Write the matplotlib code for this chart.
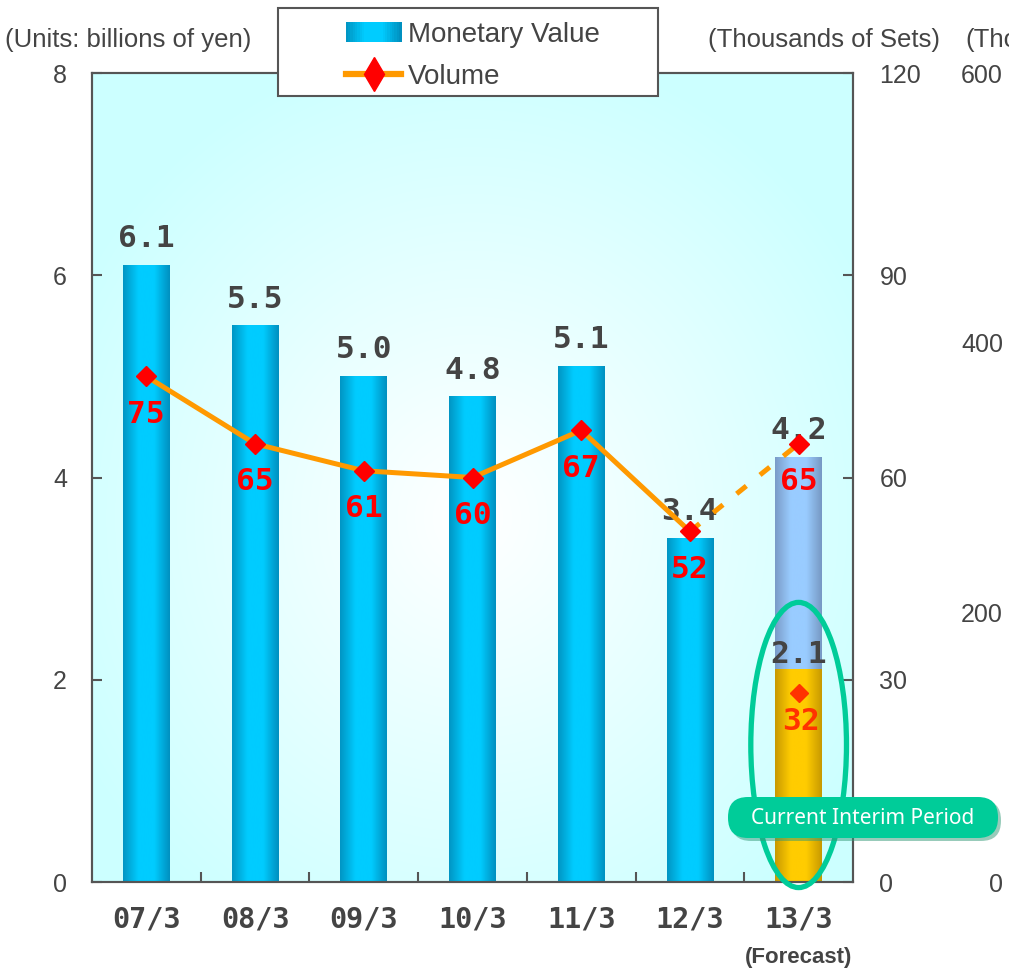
import numpy as np
import matplotlib
matplotlib.use("Agg")
import matplotlib.pyplot as plt
from matplotlib.colors import LinearSegmentedColormap
from matplotlib.legend_handler import HandlerBase
from matplotlib.lines import Line2D
from matplotlib.patches import Patch, Ellipse, FancyBboxPatch, Rectangle
from matplotlib.transforms import IdentityTransform

# data
periods = ["07/3", "08/3", "09/3", "10/3", "11/3", "12/3", "13/3"]
value = [6.1, 5.5, 5.0, 4.8, 5.1, 3.4, 4.2]      # billions of yen (last one = forecast)
volume = [75, 65, 61, 60, 67, 52, 65]            # thousands of sets
interim_value = 2.1
interim_volume = 32
interim_marker = 28                              # where the interim marker sits in the picture
left_ticks = [0, 2, 4, 6, 8]
right_ticks = [0, 30, 60, 90, 120]
far_ticks = [0, 200, 400, 600]

sans = ["Liberation Sans", "DejaVu Sans"]
mono = ["DejaVu Sans Mono"]
plt.rcParams["font.family"] = sans
gray = "#444444"
spine_c = "#555555"

# gradients
blue_cm = LinearSegmentedColormap.from_list("b", ["#0096c4", "#00ccff", "#00ccff", "#0090c0"])
light_cm = LinearSegmentedColormap.from_list("l", ["#7a9cc8", "#99ccff", "#99ccff", "#7799c4"])
gold_cm = LinearSegmentedColormap.from_list("g", ["#c89a00", "#ffcc00", "#ffcc00", "#c89a00"])
bg_cm = LinearSegmentedColormap.from_list("bg", ["#ffffff", "#ccffff"])

fig = plt.figure(figsize=(10.09, 9.72), dpi=100)
ax = fig.add_axes([92 / 1009, 1 - 882 / 972, 761 / 1009, 809 / 972])
x = np.arange(len(periods))

# background
yy, xx = np.mgrid[0:1:200j, 0:1:200j]
d = np.sqrt(((xx - 0.5) / 0.6) ** 2 + ((yy - 0.45) / 0.6) ** 2)
ax.imshow(np.clip(d, 0, 1), cmap=bg_cm, extent=(-0.5, 6.5, 0, 8), origin="lower",
          aspect="auto", zorder=0, interpolation="bicubic")


def grad_fill(patch, cmap):
    x0, y0 = patch.get_x(), patch.get_y()
    w, h = patch.get_width(), patch.get_height()
    g = np.linspace(0, 1, 64).reshape(1, -1)
    ax.imshow(g, cmap=cmap, extent=(x0, x0 + w, y0, y0 + h), aspect="auto",
              zorder=2, interpolation="bicubic")


class GradHandler(HandlerBase):
    # legend key drawn as thin vertical strips of the bar gradient
    def create_artists(self, legend, orig_handle, xdescent, ydescent, width, height, fontsize, trans):
        n = 24
        out = []
        for k in range(n):
            r = Rectangle((-xdescent + width * k / n, -ydescent), width / n + 0.3, height,
                          fc=blue_cm(k / (n - 1)), ec="none", transform=trans)
            out.append(r)
        return out


bw = 0.43
bars = ax.bar(x[:-1], value[:-1], width=bw, color="none", zorder=2)
for b in bars:
    grad_fill(b, blue_cm)
fc_bar = ax.bar(x[-1:], value[-1:], width=bw, color="none", zorder=2)
grad_fill(fc_bar[0], light_cm)
int_bar = ax.bar(x[-1:], [interim_value], width=bw, color="none", zorder=2)
grad_fill(int_bar[0], gold_cm)

ax.set_xlim(-0.5, 6.5)
ax.set_ylim(0, 8)
ax.set_yticks(left_ticks)
ax.set_xticks(x)
ax.set_xticklabels(periods, family=mono, fontweight="bold", fontsize=20.5, color=gray)
ax.set_xticks(x[:-1] + 0.5, minor=True)
ax.tick_params(axis="x", which="major", length=0, pad=17)
ax.tick_params(axis="x", which="minor", direction="in", length=7, width=1.5, color=spine_c)
ax.tick_params(axis="y", direction="in", length=7, width=1.5, color=spine_c,
               labelsize=18, labelcolor=gray, pad=18)
for s in ax.spines.values():
    s.set_color(spine_c)
    s.set_linewidth(1.5)

# bar value labels
lab_kw = dict(textcoords="offset points", ha="center", family=mono, fontweight="bold",
              fontsize=22.5)
for i, v in enumerate(value):
    ax.annotate(f"{v:.1f}", (x[i], v), xytext=(0, 13), va="baseline", color=gray, zorder=6, **lab_kw)
ax.annotate(f"{interim_value:.1f}", (x[-1], interim_value), xytext=(0, 5), va="baseline",
            color=gray, zorder=6, **lab_kw)

ax.annotate("(Forecast)", (x[-1], 0), xycoords=("data", "axes fraction"), xytext=(0, -54),
            textcoords="offset points", ha="center", va="center", fontsize=16,
            fontweight="bold", color=gray)

# volume axis
ax2 = ax.twinx()
ax2.set_ylim(0, 120)
ax2.set_yticks(right_ticks)
ax2.tick_params(axis="y", direction="in", length=7, width=1.5, color=spine_c,
                labelsize=18, labelcolor=gray, pad=19)
for s in ax2.spines.values():
    s.set_color(spine_c)
    s.set_linewidth(1.5)

ax2.plot(x[:-1], volume[:-1], color="#ff9900", lw=3.6, zorder=3, solid_capstyle="butt")
ax2.plot(x[-2:], volume[-2:], color="#ff9900", lw=3.6, ls=(0, (2.5, 3.5)), zorder=3)
ax2.plot(x, volume, ls="none", marker="D", ms=10, color="#ff0000", zorder=4)
ax2.plot([x[-1]], [interim_marker], ls="none", marker="D", ms=9.5, color="#ff3300", zorder=4)
for i, v in enumerate(volume):
    ax2.annotate(str(v), (x[i], v), xytext=(0, -17), va="top", color="#ff0000", zorder=6, **lab_kw)
ax2.annotate(str(interim_volume), (x[-1], interim_marker), xytext=(2, -10), va="top",
             color="#ff3300", zorder=6, **lab_kw)

# ring around the interim bar
ring = Ellipse((x[-1], 1.355), 0.88, 2.82, transform=ax.transData, fill=False,
               ec="#00cc99", lw=3.8, clip_on=False, zorder=5)
ax2.add_patch(ring)

# third (unlabelled) scale at the far right
ax3 = ax.twinx()
ax3.set_ylim(0, 600)
ax3.set_yticks(far_ticks)
for s in ax3.spines.values():
    s.set_visible(False)
ax3.tick_params(axis="y", length=0, labelsize=18, labelcolor=gray, pad=108)
for t in ax3.get_yticklabels():
    t.set_ha("right")

# unit labels
fig.text(5 / 1009, 1 - 40 / 972, "(Units: billions of yen)", fontsize=18.5, color=gray, va="center")
fig.text(708 / 1009, 1 - 40 / 972, "(Thousands of Sets)", fontsize=18.5, color=gray, va="center")
fig.text(965 / 1009, 1 - 40 / 972, "(Tho", fontsize=18.5, color=gray, va="center")

# legend
fig.patches.append(Rectangle((278, 972 - 96), 380, 88, transform=IdentityTransform(),
                             fc="white", ec=spine_c, lw=1.5, zorder=2))
handles = [Patch(facecolor="#00c0ee", edgecolor="none"),
           Line2D([], [], color="#ff9900", lw=4.5, marker="d", ms=17, mfc="#ff0000", mec="#ff0000")]
leg = fig.legend(handles, ["Monetary Value", "Volume"], loc="center",
                 bbox_to_anchor=(473 / 1009, 1 - 56 / 972), frameon=False, fontsize=20,
                 handlelength=2.0, handleheight=0.75, handletextpad=0.25, labelspacing=0.6,
                 handler_map={Patch: GradHandler()})
for t in leg.get_texts():
    t.set_color(gray)
leg.set_zorder(3)

# "Current Interim Period" tag
fig.patches.append(FancyBboxPatch((731, 972 - 841), 270, 41, boxstyle="round,pad=0,rounding_size=20",
                                  transform=IdentityTransform(), fc="#339977", ec="none",
                                  alpha=0.5, zorder=2))
fig.patches.append(FancyBboxPatch((728, 972 - 838), 270, 41, boxstyle="round,pad=0,rounding_size=20",
                                  transform=IdentityTransform(), fc="#00cc99", ec="none", zorder=2))
fig.text(863 / 1009, 1 - 818 / 972, "Current Interim Period", family=["Noto Sans", "DejaVu Sans"],
         fontsize=15, color="white", ha="center", va="center", zorder=3)

fig.savefig("out.png", dpi=100)
